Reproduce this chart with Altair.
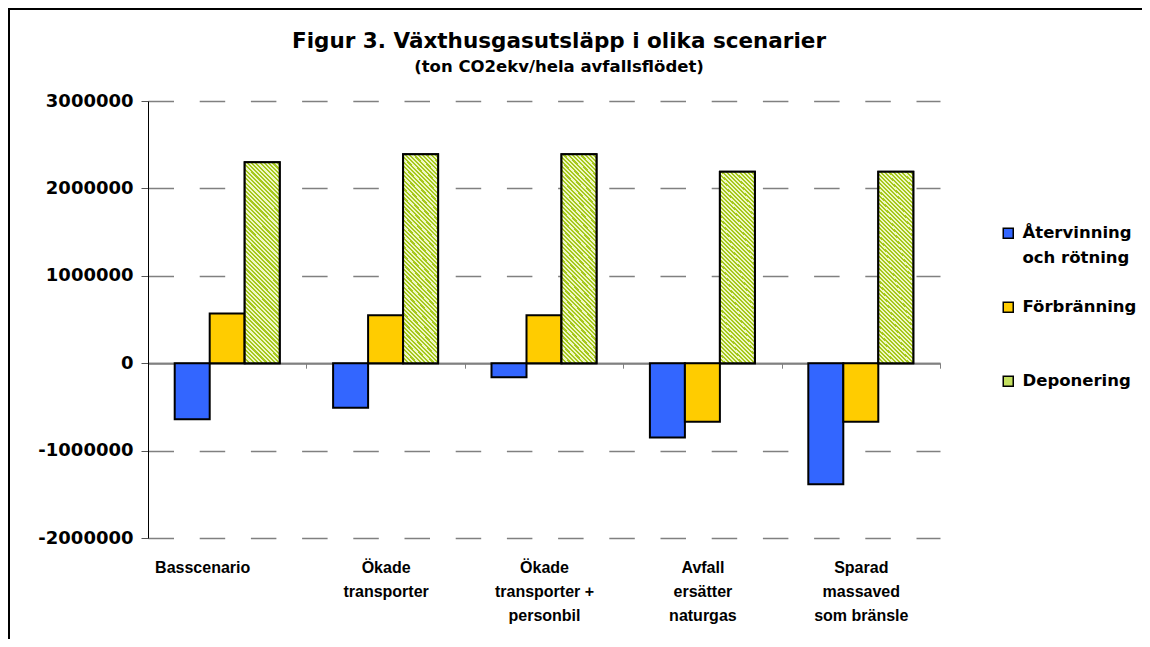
import altair as alt
import pandas as pd

categories = ["Basscenario", "Ökade transporter", "Ökade transporter + personbil",
              "Avfall ersätter naturgas", "Sparad massaved som bränsle"]
category_labels = ["Basscenario", "Ökade|transporter", "Ökade|transporter +|personbil",
                   "Avfall|ersätter|naturgas", "Sparad|massaved|som bränsle"]
series = ["Återvinning och rötning", "Förbränning", "Deponering"]
atervinning = [-640000, -510000, -160000, -850000, -1385000]
forbranning = [570000, 550000, 550000, -670000, -670000]
deponering = [2300000, 2390000, 2390000, 2190000, 2190000]
colors = ["#3366ff", "#ffcc00", "#c4e060"]

rows = []
for i, c in enumerate(category_labels):
    rows.append({"kat": c, "serie": series[0], "v": atervinning[i]})
    rows.append({"kat": c, "serie": series[1], "v": forbranning[i]})
    rows.append({"kat": c, "serie": series[2], "v": deponering[i]})
df = pd.DataFrame(rows)

# hatch-like diagonal stripes for Deponering
n = 55
stops = []
for k in range(n):
    a = k / n
    m = (k + 0.5) / n
    b = (k + 1) / n
    stops += [alt.GradientStop(offset=a, color="#a6c81c"),
              alt.GradientStop(offset=m, color="#a6c81c"),
              alt.GradientStop(offset=m, color="#eef7c4"),
              alt.GradientStop(offset=b, color="#eef7c4")]
stripes = alt.LinearGradient(gradient="linear", stops=stops,
                             x1=0, y1=1, x2=0.1995, y2=-0.14)

FONT = "DejaVu Sans"
XFONT = "Liberation Sans"

x_enc = alt.X("kat:N", sort=category_labels, title=None,
              scale=alt.Scale(paddingInner=0, paddingOuter=0),
              axis=alt.Axis(orient="bottom", offset=-174.8, domainColor="#808080",
                            domainWidth=2, ticks=True, tickBand="extent", tickSize=5,
                            tickColor="#808080", labelAngle=0,
                            labelExpr="split(datum.label, '|')",
                            labelFont=XFONT, labelFontWeight="bold",
                            labelFontSize=16, labelLineHeight=24, labelColor="black",
                            labelOffset={"condition": {"test": "datum.value == 'Basscenario'", "value": -25},
                                         "value": 0},
                            labelPadding=191, grid=False))
xo_enc = alt.XOffset("serie:N", sort=series,
                     scale=alt.Scale(domain=series, paddingInner=0, paddingOuter=0.763))
y_enc = alt.Y("v:Q", title=None,
              scale=alt.Scale(domain=[-2000000, 3000000], nice=False),
              axis=alt.Axis(values=[-2000000, -1000000, 0, 1000000, 2000000, 3000000],
                            labelExpr="datum.value + ''", domainColor="black",
                            domainWidth=1, tickColor="#555555", tickSize=7,
                            labelFont=FONT, labelFontWeight="bold", labelFontSize=18,
                            labelColor="black", labelPadding=8,
                            grid=True, gridColor="#808080", gridWidth=1.5,
                            gridDash={"condition": {"test": "datum.value === 0", "value": [1, 0]},
                                      "value": [25.5, 25.7]}))

legend_expr = ("datum.label == 'Återvinning och rötning' ? ['Återvinning', 'och rötning'] : "
               "[datum.label, '']")

bars = alt.Chart(df).mark_bar(stroke="black", strokeWidth=2).encode(
    x=x_enc, xOffset=xo_enc, y=y_enc,
    color=alt.Color("serie:N", sort=series,
                    scale=alt.Scale(domain=series, range=colors),
                    legend=alt.Legend(title=None, orient="none", legendX=852, legendY=124,
                                      symbolType="square", symbolSize=100,
                                      symbolStrokeColor="black", symbolStrokeWidth=1.5,
                                      labelFont=FONT, labelFontSize=16.5, labelFontWeight="bold",
                                      labelColor="black", labelOffset=6, rowPadding=32,
                                      labelExpr=legend_expr, labelLimit=300))
)

green = alt.Chart(df).transform_filter(alt.datum.serie == "Deponering").mark_bar(
    fill=stripes, stroke="black", strokeWidth=2).encode(
    x=x_enc, xOffset=xo_enc, y=y_enc)

frame = alt.Chart(pd.DataFrame({"a": [0]})).mark_rect(
    fill="transparent", stroke="black", strokeWidth=2).encode(
    x=alt.value(-139), x2=alt.value(1200), y=alt.value(-92), y2=alt.value(900))

chart = alt.layer(bars, green, frame).properties(
    width=792, height=437,
    title=alt.TitleParams(text="Figur 3. Växthusgasutsläpp i olika scenarier",
                          subtitle="(ton CO2ekv/hela avfallsflödet)",
                          font=FONT, fontSize=21.5, fontWeight="bold", color="black",
                          subtitleFont=FONT, subtitleFontSize=16.5, subtitleFontWeight="bold",
                          subtitleColor="black", subtitlePadding=6,
                          anchor="middle", frame="group", dx=15, offset=-67),
    padding={"left": 140, "top": 93, "right": 202, "bottom": 101},
    autosize=alt.AutoSizeParams(type="none"),
).configure(
    background="white",
    style={"guide-label": {"lineHeight": 25}},
    view=alt.ViewConfig(stroke="transparent", strokeWidth=0),
)

chart.save("out.html", embed_options={"renderer": "svg", "actions": False})
